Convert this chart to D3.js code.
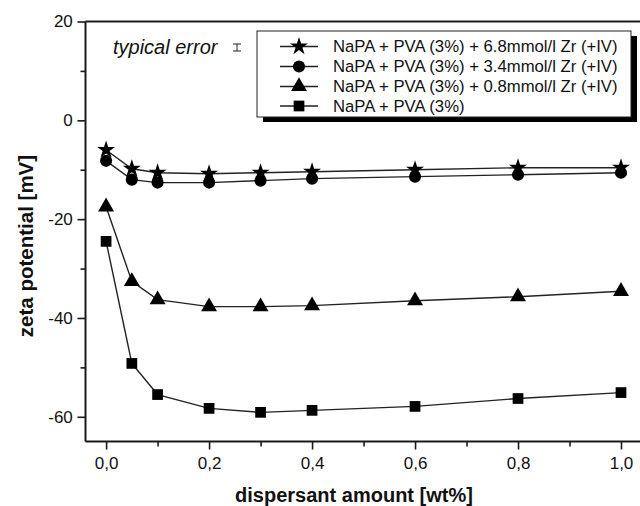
<!DOCTYPE html>
<html>
<head>
<meta charset="utf-8">
<script src="https://cdn.jsdelivr.net/npm/d3@7/dist/d3.min.js"></script>
<style>
  html, body { margin: 0; padding: 0; background: #fff; }
  svg { display: block; font-family: "Liberation Sans", Arial, sans-serif; }
</style>
</head>
<body>
<svg id="chart" width="640" height="506"></svg>
<script>
// Dispersant amount (wt%)
const dispersant = [0, 0.05, 0.1, 0.2, 0.3, 0.4, 0.6, 0.8, 1.0];

// Zeta potential (mV) for each formulation
const zr68 = [-6.0, -9.8, -10.6, -10.8, -10.6, -10.4, -10.0, -9.6, -9.6];
const zr34 = [-8.2, -12.0, -12.6, -12.6, -12.2, -11.8, -11.4, -11.0, -10.6];
const zr08 = [-17.5, -32.6, -36.3, -37.7, -37.7, -37.5, -36.5, -35.7, -34.6];
const plain = [-24.5, -49.2, -55.5, -58.3, -59.1, -58.7, -57.9, -56.3, -55.1];

const seriesNames = [
  "NaPA + PVA (3%) + 6.8mmol/l Zr (+IV)",
  "NaPA + PVA (3%) + 3.4mmol/l Zr (+IV)",
  "NaPA + PVA (3%) + 0.8mmol/l Zr (+IV)",
  "NaPA + PVA (3%)"
];
const seriesValues = [zr68, zr34, zr08, plain];
const seriesSymbols = [d3.symbolStar, d3.symbolCircle, d3.symbolTriangle, d3.symbolSquare];
const symbolSizes = [100, 115, 110, 115];

const xMajorTicks = [0, 0.2, 0.4, 0.6, 0.8, 1.0];
const xMinorTicks = [0.1, 0.3, 0.5, 0.7, 0.9];
const yMajorTicks = [20, 0, -20, -40, -60];
const yMinorTicks = [10, -10, -30, -50];

const svg = d3.select("#chart");

const x = d3.scaleLinear().domain([-0.04, 1.0]).range([85.5, 621]);
const y = d3.scaleLinear().domain([-65, 20]).range([441.5, 21.5]);
const xRight = 640;

const fmtX = v => d3.format(".1f")(v).replace(".", ",");
const fmtY = v => String(v);   // plain hyphen-minus

// Axes
const axisG = svg.append("g");

const xMajor = axisG.append("g")
  .attr("transform", `translate(0,${y(-65)})`)
  .call(d3.axisBottom(x).tickValues(xMajorTicks).tickFormat(fmtX).tickSize(8).tickSizeOuter(0));
const xMinor = axisG.append("g")
  .attr("transform", `translate(0,${y(-65)})`)
  .call(d3.axisBottom(x).tickValues(xMinorTicks).tickFormat("").tickSize(5).tickSizeOuter(0));

const yMajor = axisG.append("g")
  .attr("transform", `translate(${x(-0.04)},0)`)
  .call(d3.axisLeft(y).tickValues(yMajorTicks).tickFormat(fmtY).tickSize(8).tickSizeOuter(0));
const yMinor = axisG.append("g")
  .attr("transform", `translate(${x(-0.04)},0)`)
  .call(d3.axisLeft(y).tickValues(yMinorTicks).tickFormat("").tickSize(5).tickSizeOuter(0));

[xMajor, xMinor, yMajor, yMinor].forEach(g => {
  g.select(".domain").remove();
  g.selectAll(".tick line").attr("stroke", "#1a1a1a").attr("stroke-width", 1.6);
  g.selectAll(".tick text")
    .attr("fill", "#111")
    .style("font-size", "17px")
    .style("font-family", "'Liberation Sans', Arial, sans-serif");
});
xMajor.selectAll(".tick text").attr("dy", "0.98em");
yMajor.selectAll(".tick text").attr("dx", "-0.1em");

// Frame lines: left, bottom, top
const frame = svg.append("g").attr("stroke", "#1a1a1a").attr("stroke-width", 2).attr("fill", "none");
frame.append("line").attr("x1", x(-0.04)).attr("x2", x(-0.04)).attr("y1", y(20)).attr("y2", y(-65));
frame.append("line").attr("x1", x(-0.04)).attr("x2", xRight).attr("y1", y(-65)).attr("y2", y(-65));
frame.append("line").attr("x1", x(-0.04)).attr("x2", xRight).attr("y1", y(20)).attr("y2", y(20));

// Axis titles
svg.append("text")
  .attr("x", 354).attr("y", 502)
  .attr("text-anchor", "middle")
  .style("font-size", "20px").style("font-weight", "bold")
  .attr("fill", "#111")
  .text("dispersant amount [wt%]");

svg.append("text")
  .attr("transform", `translate(33,${246}) rotate(-90)`)
  .attr("text-anchor", "middle")
  .style("font-size", "20.5px").style("font-weight", "bold")
  .attr("fill", "#111")
  .text("zeta potential [mV]");

// Series lines and markers
const line = d3.line().x((d, i) => x(dispersant[i])).y(d => y(d));
const plot = svg.append("g");
seriesValues.forEach((vals, k) => {
  plot.append("path")
    .datum(vals)
    .attr("d", line)
    .attr("fill", "none")
    .attr("stroke", "#222")
    .attr("stroke-width", 1.4);
});
seriesValues.forEach((vals, k) => {
  plot.selectAll(null)
    .data(vals)
    .enter().append("path")
    .attr("d", d3.symbol().type(seriesSymbols[k]).size(symbolSizes[k]))
    .attr("transform", (d, i) => `translate(${x(dispersant[i])},${y(d)})`)
    .attr("fill", "#000");
});

// "typical error" note with a small error-bar glyph
svg.append("text")
  .attr("x", 113).attr("y", 54)
  .style("font-size", "20px").style("font-style", "italic")
  .attr("fill", "#111")
  .text("typical error");
const eb = svg.append("g").attr("stroke", "#444").attr("stroke-width", 1.2);
eb.append("line").attr("x1", 237).attr("x2", 237).attr("y1", 44).attr("y2", 51);
eb.append("line").attr("x1", 233).attr("x2", 241).attr("y1", 44).attr("y2", 44);
eb.append("line").attr("x1", 233).attr("x2", 241).attr("y1", 51).attr("y2", 51);

// Legend with drop shadow
const lg = { x: 257, y: 31, w: 374, h: 86 };
svg.append("rect")
  .attr("x", lg.x + 6).attr("y", lg.y + 5).attr("width", lg.w).attr("height", lg.h)
  .attr("fill", "#000");
svg.append("rect")
  .attr("x", lg.x).attr("y", lg.y).attr("width", lg.w).attr("height", lg.h)
  .attr("fill", "#fff").attr("stroke", "#222").attr("stroke-width", 1);

const rowY = [46.5, 66.5, 86.5, 106];
seriesNames.forEach((name, k) => {
  const g = svg.append("g").attr("transform", `translate(0,${rowY[k]})`);
  g.append("line").attr("x1", 280).attr("x2", 318).attr("y1", 0).attr("y2", 0)
    .attr("stroke", "#222").attr("stroke-width", 1.4);
  g.append("path")
    .attr("d", d3.symbol().type(seriesSymbols[k]).size(symbolSizes[k]))
    .attr("transform", "translate(299,0)")
    .attr("fill", "#000");
  g.append("text")
    .attr("x", 333).attr("y", 0).attr("dy", "0.35em")
    .style("font-size", "16.7px")
    .attr("fill", "#111")
    .text(name);
});
</script>
</body>
</html>
